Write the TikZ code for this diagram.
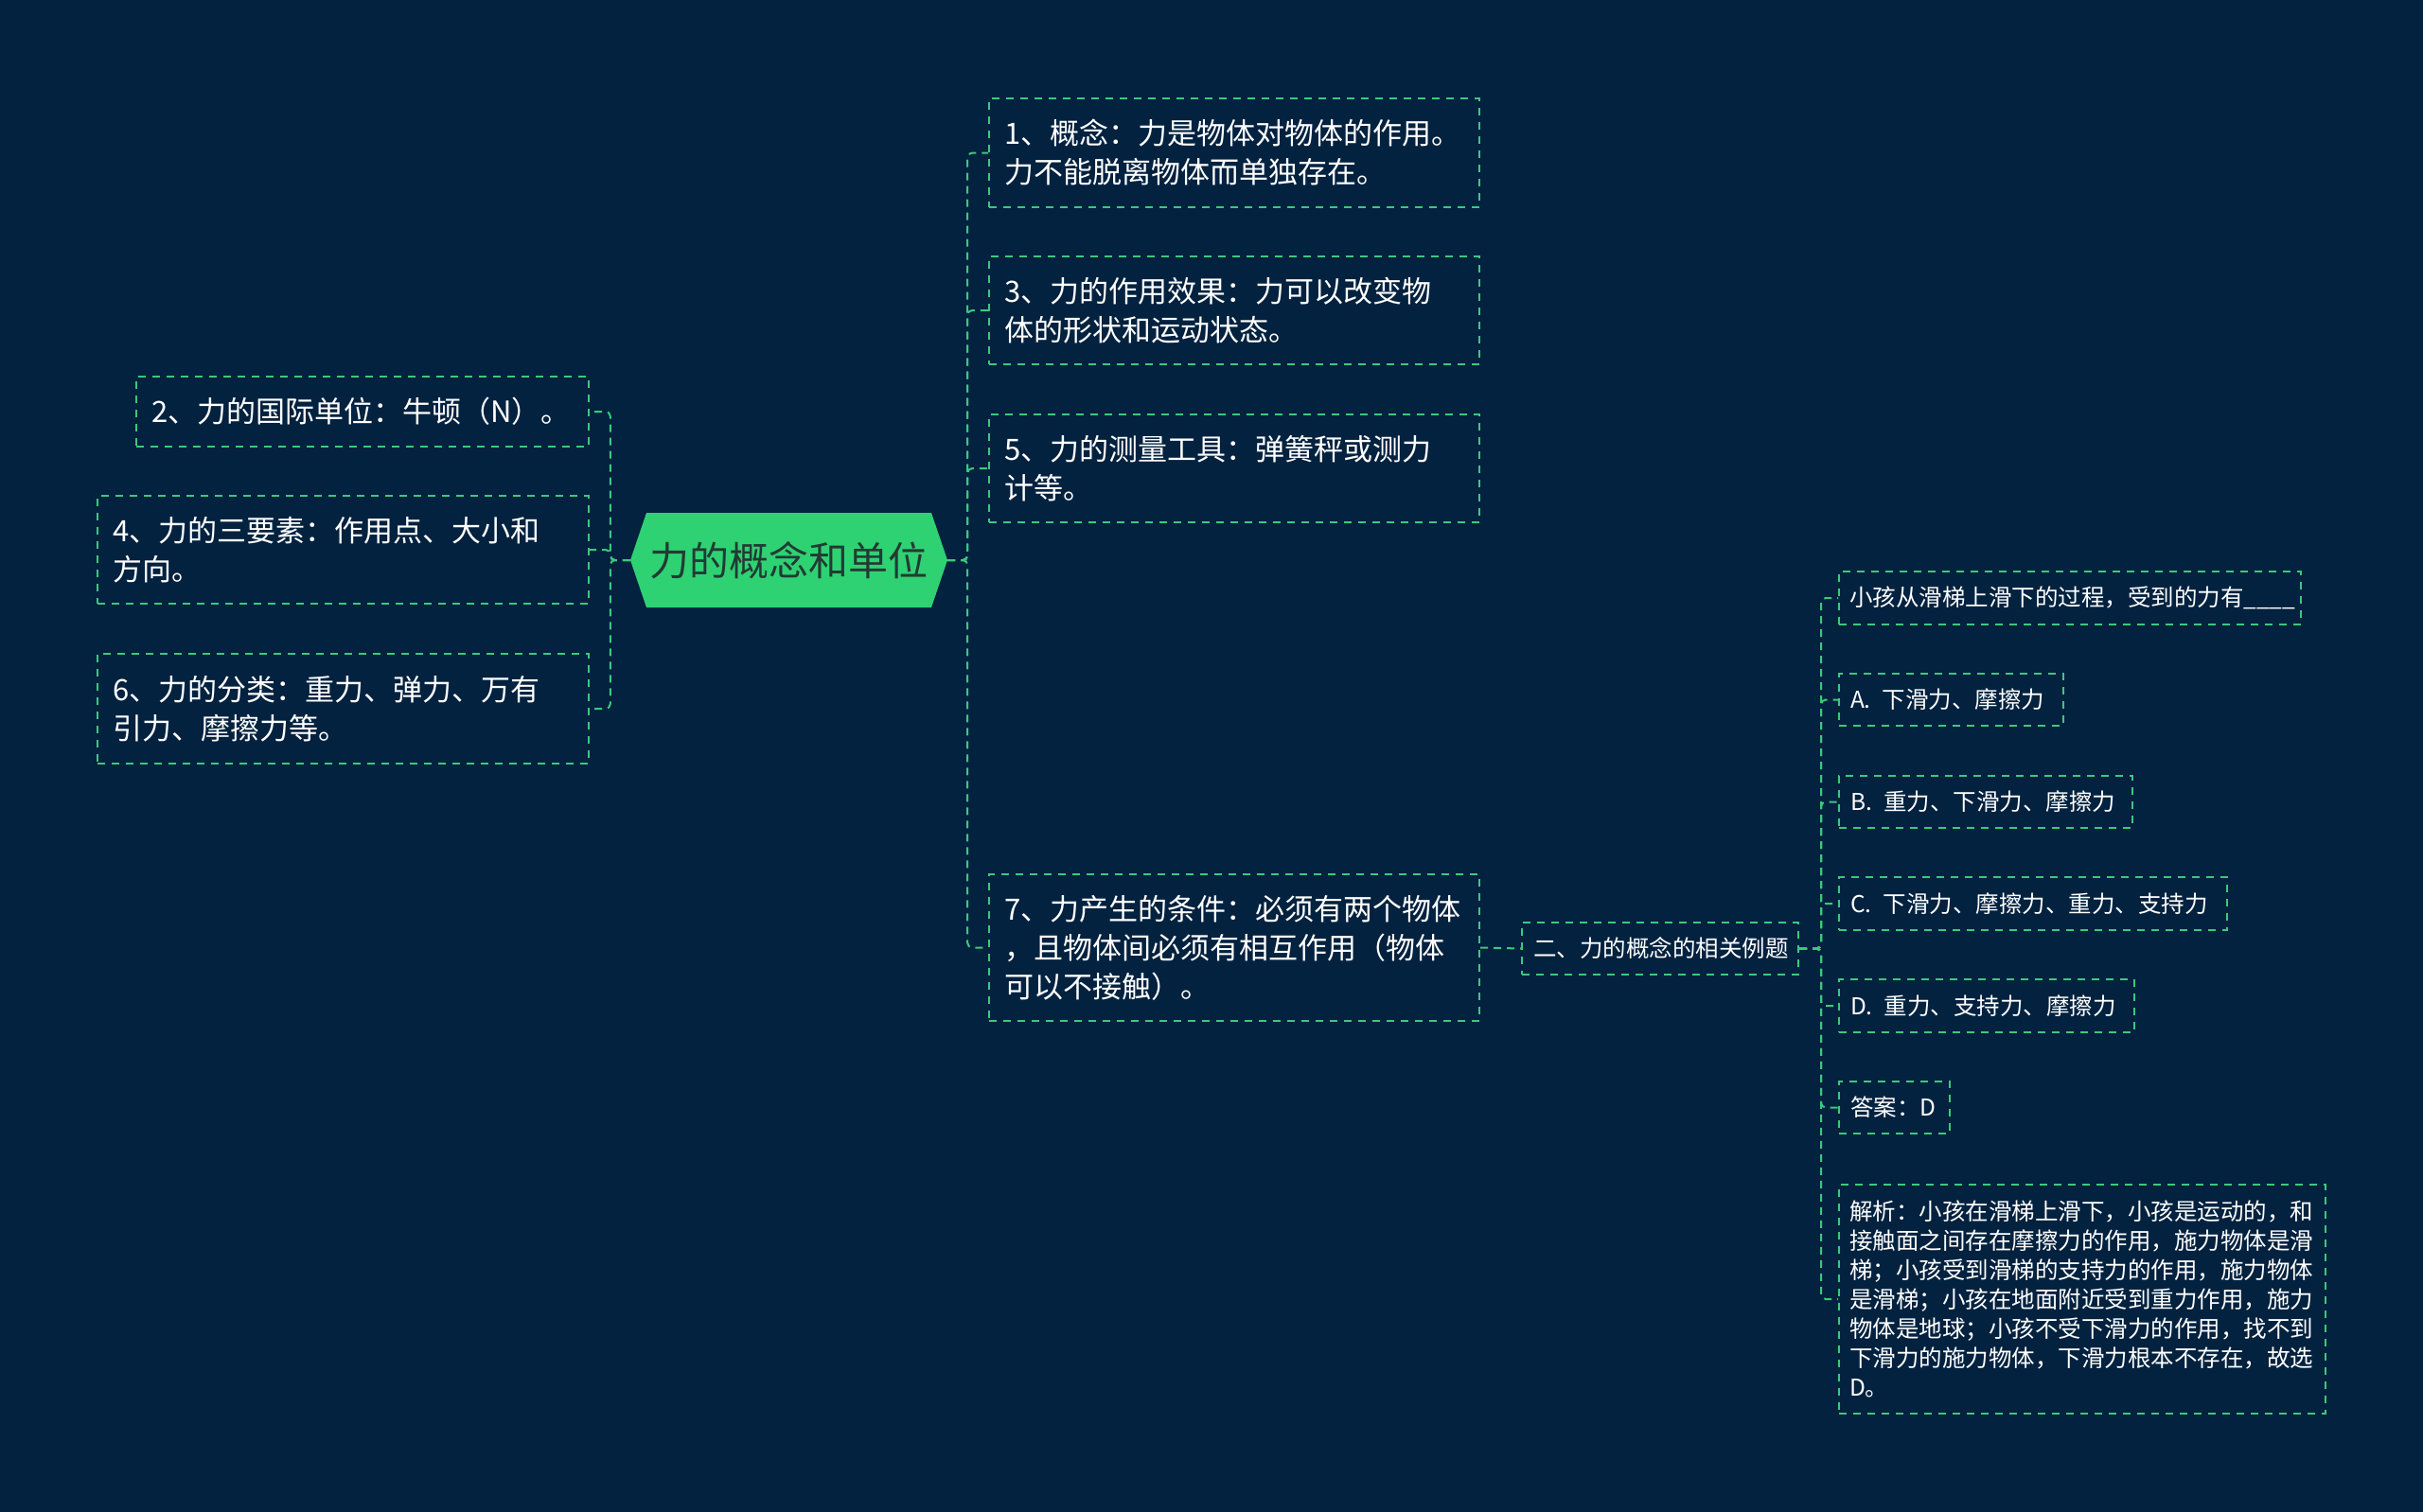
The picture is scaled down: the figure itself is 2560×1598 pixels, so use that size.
\documentclass[tikz,border=0pt]{standalone}
\usepackage{fontspec}
\setmainfont{Noto Sans CJK SC}
\definecolor{bgc}{HTML}{03223F}
\definecolor{lc}{HTML}{3CC97C}
\definecolor{rootc}{HTML}{2ED273}
\definecolor{roottext}{HTML}{233A33}
\tikzset{
  box/.style={draw=lc, line width=2pt, dash pattern=on 8pt off 7pt, inner xsep=16pt, inner ysep=0pt, align=left, text=white, anchor=center},
  big/.style={font=\fontsize{31}{41}\selectfont},
  small/.style={font=\fontsize{24.5}{31}\selectfont, inner xsep=12pt},
  link/.style={draw=lc, line width=2pt, dash pattern=on 8pt off 6pt, rounded corners=5pt},
}
\begin{document}
\begin{tikzpicture}[x=1pt,y=-1pt]
\fill[bgc] (0,0) rectangle (2560,1598);
% root hexagon
\fill[rootc] (683,542) -- (984,542) -- (1001,592) -- (984,642) -- (683,642) -- (666,592) -- cycle;
\node[text=roottext, font=\fontsize{42}{50}\selectfont, minimum width=335pt, minimum height=100pt, inner sep=0pt] (root) at (833.5,592) {力的概念和单位};

% right main boxes
\node[box, big, text width=486pt, minimum height=115pt] (b1) at (1304,161.5) {1、概念：力是物体对物体的作用。\\力不能脱离物体而单独存在。};
\node[box, big, text width=486pt, minimum height=114pt] (b3) at (1304,328) {3、力的作用效果：力可以改变物\\体的形状和运动状态。};
\node[box, big, text width=486pt, minimum height=114pt] (b5) at (1304,495) {5、力的测量工具：弹簧秤或测力\\计等。};
\node[box, big, text width=486pt, minimum height=155pt] (b7) at (1304,1001.5) {7、力产生的条件：必须有两个物体\\，且物体间必须有相互作用（物体\\可以不接触）。};

% left main boxes
\node[box, big, text width=446pt, minimum height=74pt] (b2) at (383,435) {2、力的国际单位：牛顿（N）。};
\node[box, big, text width=487pt, minimum height=114pt] (b4) at (362.5,581) {4、力的三要素：作用点、大小和\\方向。};
\node[box, big, text width=487pt, minimum height=116pt] (b6) at (362.5,749) {6、力的分类：重力、弹力、万有\\引力、摩擦力等。};

% sub topic
\node[box, small, text width=268pt, minimum height=55pt] (sub) at (1754,1002.5) {二、力的概念的相关例题};

\node[box, small, text width=466pt, minimum height=56pt, inner xsep=11pt] (q) at (2187,632) {小孩从滑梯上滑下的过程，受到的力有\_\_\_\_};
\node[box, small, text width=213pt, minimum height=55pt] (oa) at (2061.5,739.5) {A.\enspace 下滑力、摩擦力};
\node[box, small, text width=286pt, minimum height=55pt] (ob) at (2098,847.5) {B.\enspace 重力、下滑力、摩擦力};
\node[box, small, text width=386pt, minimum height=56pt] (oc) at (2148,955) {C.\enspace 下滑力、摩擦力、重力、支持力};
\node[box, small, text width=288pt, minimum height=56pt] (od) at (2099,1063) {D.\enspace 重力、支持力、摩擦力};
\node[box, small, text width=93pt, minimum height=55pt] (ans) at (2001.5,1170.5) {答案：D};
\node[box, small, text width=492pt, minimum height=242pt, inner xsep=11pt] (jx) at (2200,1373) {解析：小孩在滑梯上滑下，小孩是运动的，和\\接触面之间存在摩擦力的作用，施力物体是滑\\梯；小孩受到滑梯的支持力的作用，施力物体\\是滑梯；小孩在地面附近受到重力作用，施力\\物体是地球；小孩不受下滑力的作用，找不到\\下滑力的施力物体，下滑力根本不存在，故选\\D。};

% connectors
\foreach \n in {b1,b3,b5,b7}
  \draw[link] (root.east) -- ([xshift=21pt]root.east) |- (\n.west);
\foreach \n in {b2,b4,b6}
  \draw[link] (root.west) -- ([xshift=-21pt]root.west) |- (\n.east);
\draw[link] (b7.east) -- (sub.west);
\foreach \n in {q,oa,ob,oc,od,ans,jx}
  \draw[link] (sub.east) -- ([xshift=23pt]sub.east) |- (\n.west);
\end{tikzpicture}
\end{document}
